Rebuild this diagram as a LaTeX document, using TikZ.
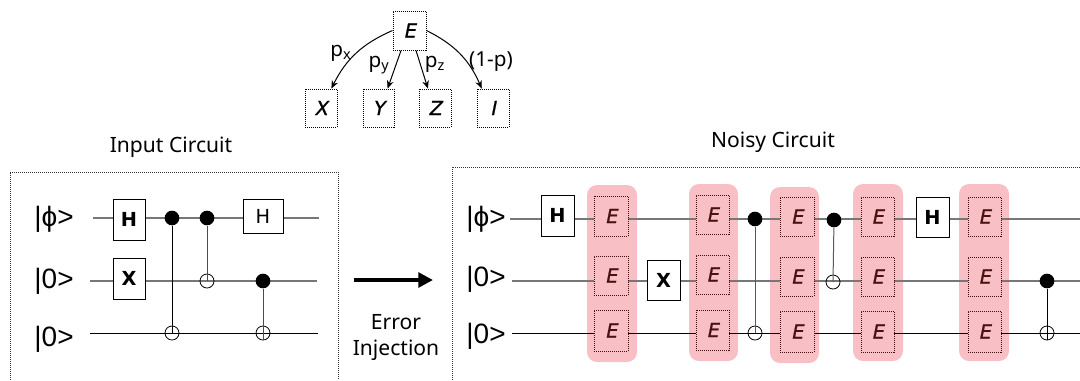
\documentclass[tikz,border=0pt]{standalone}
\usepackage{fontspec}
\setmainfont{Noto Sans}
\newfontfamily\statefont{Liberation Sans}
\newfontfamily\efont[FakeBold=1,FakeSlant=0.2]{DejaVu Sans}
\newfontfamily\gatefont{DejaVu Sans}
\usetikzlibrary{arrows.meta}
\definecolor{pinkband}{HTML}{F8C0C4}
\definecolor{wiregray}{HTML}{777777}
\definecolor{edark}{HTML}{4A1012}
\tikzset{
  x=0.75pt,y=-0.75pt,
  frameline/.style={draw=black!80,dash pattern=on 0.75pt off 0.75pt,line width=0.6pt},
  errbox/.style={draw=black,dash pattern=on 0.75pt off 0.75pt,line width=0.7pt,inner sep=0,fill=white,font=\efont\fontsize{14.5}{14.5}\selectfont},
  pinkerr/.style={errbox,fill=pinkband,text=edark,draw=edark!90!black},
  gatebox/.style={draw=black,line width=0.75pt,fill=white,inner sep=0,font=\gatefont\fontsize{14.5}{14.5}\selectfont\bfseries},
  band/.style={fill=pinkband,rounded corners=7.5pt,draw=none},
  wireA/.style={draw=wiregray,line width=1pt},
  wireB/.style={draw=black,line width=0.75pt},
  ctrl/.style={circle,fill=black,draw=none,minimum size=11pt,inner sep=0},
  targ/.style={circle,draw=black,line width=0.6pt,minimum size=10.5pt,inner sep=0},
  state/.style={inner sep=0,font=\statefont\fontsize{21}{21}\selectfont},
  lbl/.style={inner sep=0,font=\fontsize{15.8}{15.8}\selectfont},
  plab/.style={inner sep=0,font=\fontsize{15.5}{15.5}\selectfont},
  treearrow/.style={draw=black,line width=0.75pt,-{Stealth[length=6pt,width=5pt]}},
}
% \bx{style}{name}{x0}{y0}{x1}{y1}{text}
\newcommand{\bx}[7]{\node[#1,minimum width={(#5-#3)*0.75pt},minimum height={(#6-#4)*0.75pt}] (#2) at ({(#3+#5)/2},{(#4+#6)/2}) {#7};}
\newcommand{\bandrect}[4]{\fill[band] (#1,#2) rectangle (#3,#4);}
\begin{document}
\begin{tikzpicture}
\useasboundingbox (0,0) rectangle (1080,380);
% frames
\coordinate (la) at (10,380); \coordinate (lb) at (10,172); \coordinate (lc) at (338,172); \coordinate (ld) at (338,380);
\draw[frameline] (la) -- (lb) -- (lc) -- (ld);
\coordinate (ra) at (452,380); \coordinate (rb) at (452,167); \coordinate (rc) at (1080,167);
\draw[frameline] (ra) -- (rb) -- (rc);
% tree
\bx{errbox}{E}{393}{11}{426}{50}{E}
\bx{errbox}{X}{305}{89}{337}{127}{X}
\bx{errbox}{Y}{363}{89}{394}{127}{Y}
\bx{errbox}{Z}{419}{89}{451}{127}{Z}
\bx{errbox}{I}{477}{89}{509}{127}{I}
\draw[treearrow] (E.west) to[bend right=20] (X.62);
\draw[treearrow] (E.-113) -- (Y.65);
\draw[treearrow] (E.-72) -- (Z.110);
\draw[treearrow] (E.east) to[bend left=20] (I.120);
\node[plab] (lpx) at (341,53) {p\textsubscript{x}};
\node[plab] (lpy) at (379,65) {p\textsubscript{y}};
\node[plab] (lpz) at (435,64) {p\textsubscript{z}};
\node[plab] (lpi) at (491,62) {(1-p)};
% titles
\node[lbl] (t1) at (171,147) {Input Circuit};
\node[lbl] (t2) at (773,142) {Noisy Circuit};
\node[lbl] (t3) at (396,322) {Error};
\node[lbl] (t4) at (396,350) {Injection};
\coordinate (aa) at (354,280); \coordinate (ab) at (433,280);
\draw[line width=3.2pt,-{Triangle[length=11pt,width=11pt]}] (aa) -- (ab);
% left circuit
\node[state] (ls1) at (54,219) {|ϕ>};
\node[state] (ls2) at (54,281) {|0>};
\node[state] (ls3) at (54,339) {|0>};
\coordinate (l1s) at (93,218); \coordinate (l1e) at (319,218);
\coordinate (l2s) at (90,281); \coordinate (l2e) at (317,281);
\coordinate (l3s) at (90,333); \coordinate (l3e) at (318,333);
\draw[wireA] (l1s) -- (l1e);
\draw[wireA] (l2s) -- (l2e);
\draw[wireB] (l3s) -- (l3e);
\bx{gatebox}{lH1}{113}{199}{145}{240}{H}
\bx{gatebox}{lX}{113}{258}{145}{299}{X}
\bx{gatebox}{lH2}{243}{199}{283}{233}{\mdseries H}
\node[ctrl] (lc1) at (172,218) {}; \node[targ] (lt1) at (172,333) {};
\node[ctrl] (lc2) at (207,218) {}; \node[targ] (lt2) at (207,281) {};
\node[ctrl] (lc3) at (263,281) {}; \node[targ] (lt3) at (263,333) {};
\draw[wireB] (lc1) -- (lt1.center);
\draw[wireB,draw=black!70] (lc2) -- (lt2.center);
\draw[wireB,draw=black!70] (lc3) -- (lt3.south);
% right circuit
\node[state] (rs1) at (486,219) {|ϕ>};
\node[state] (rs2) at (486,279) {|0>};
\node[state] (rs3) at (486,336) {|0>};
\bandrect{587}{185}{637}{362}
\bandrect{689}{184}{738}{361}
\bandrect{770}{187}{819}{363}
\bandrect{853}{184}{903}{361}
\bandrect{959}{184}{1009}{361}
\coordinate (r1s) at (510,219); \coordinate (r1e) at (1080,219);
\coordinate (r2s) at (512,281); \coordinate (r2e) at (1080,281);
\coordinate (r3s) at (512,333); \coordinate (r3e) at (1080,333);
\draw[wireA] (r1s) -- (r1e);
\draw[wireA] (r2s) -- (r2e);
\draw[wireB] (r3s) -- (r3e);
\bx{gatebox}{rH1}{541}{195}{574}{236}{H}
\bx{gatebox}{rX}{647}{260}{680}{300}{X}
\bx{gatebox}{rH2}{916}{197}{949}{237}{H}
\bx{pinkerr}{a1}{594}{196}{628}{236}{E}
\bx{pinkerr}{a2}{594}{256}{628}{295}{E}
\bx{pinkerr}{a3}{594}{310}{628}{351}{E}
\bx{pinkerr}{b1}{696}{195}{729}{234}{E}
\bx{pinkerr}{b2}{696}{255}{729}{294}{E}
\bx{pinkerr}{b3}{696}{310}{729}{350}{E}
\bx{pinkerr}{c1}{780}{197}{814}{236}{E}
\bx{pinkerr}{c2}{780}{257}{814}{296}{E}
\bx{pinkerr}{c3}{780}{311}{814}{352}{E}
\bx{pinkerr}{d1}{861}{197}{894}{236}{E}
\bx{pinkerr}{d2}{861}{257}{894}{296}{E}
\bx{pinkerr}{d3}{861}{311}{894}{352}{E}
\bx{pinkerr}{e1}{968}{197}{1001}{236}{E}
\bx{pinkerr}{e2}{968}{257}{1001}{296}{E}
\bx{pinkerr}{e3}{968}{311}{1001}{352}{E}
\node[ctrl] (rc1) at (755,219) {}; \node[targ] (rt1) at (755,333) {};
\node[ctrl] (rc2) at (834,220) {}; \node[targ] (rt2) at (833,282) {};
\node[ctrl] (rc3) at (1047,281) {}; \node[targ] (rt3) at (1047,333) {};
\draw[wireB,draw=black!65] (rc1) -- (rt1.center);
\draw[wireB,draw=black!65] (rc2) -- (rt2.center);
\draw[wireB] (rc3) -- (rt3.south);
\end{tikzpicture}
\end{document}
